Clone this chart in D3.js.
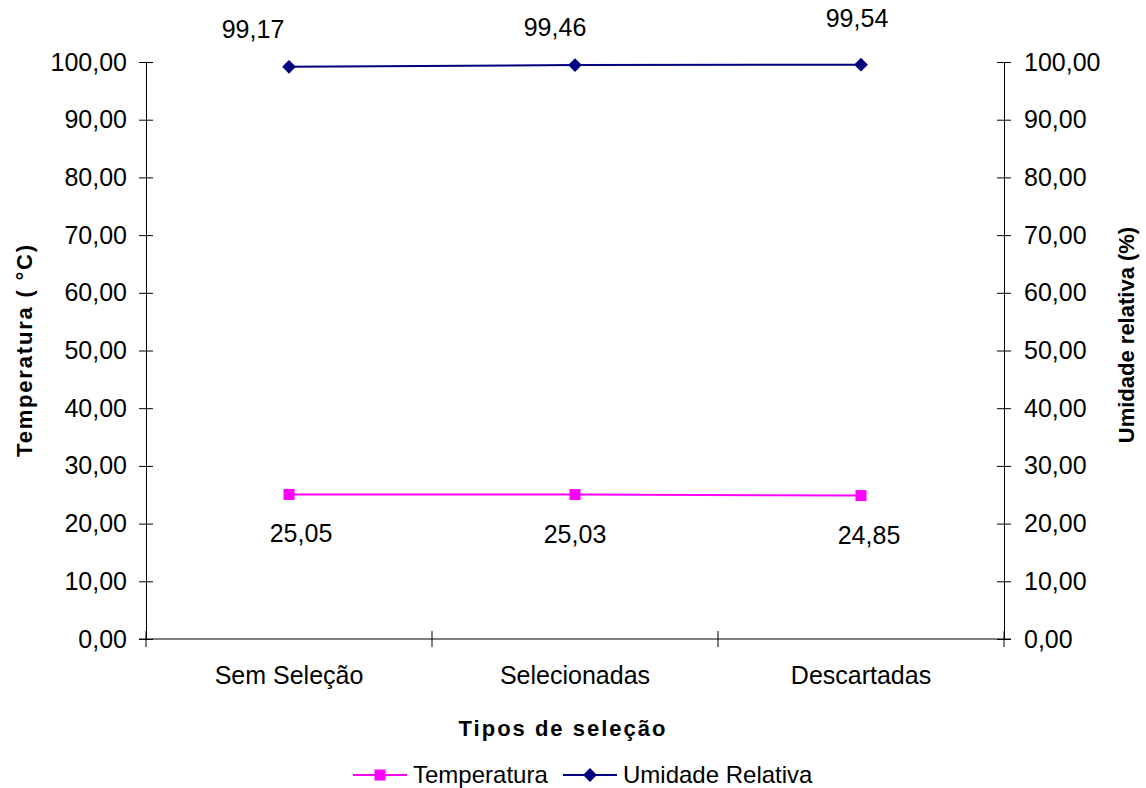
<!DOCTYPE html>
<html>
<head>
<meta charset="utf-8">
<script src="https://cdn.jsdelivr.net/npm/d3@7"></script>
<style>
  html, body { margin: 0; padding: 0; background: #fff; }
  svg text { font-family: "Liberation Sans", Arial, sans-serif; fill: #000; }
</style>
</head>
<body>
<svg id="chart" width="1146" height="788"></svg>
<script>
// Series data
const categories = ["Sem Seleção", "Selecionadas", "Descartadas"];
const temperatura = [25.05, 25.03, 24.85];
const umidade = [99.17, 99.46, 99.54];
const yTicks = [0, 10, 20, 30, 40, 50, 60, 70, 80, 90, 100];

// Hand-placed data label offsets (dx, dy from each point to label baseline)
const umidLabelOffset = [[-36, -29], [-20, -29], [-4, -38]];
const tempLabelOffset = [[12, 48], [0, 48], [8, 48]];

const svg = d3.select("#chart");
const plot = { left: 146, right: 1004, top: 62, bottom: 639 };

const x = d3.scaleBand().domain(categories).range([plot.left, plot.right]);
const yL = d3.scaleLinear().domain([0, 100]).range([plot.bottom, plot.top]);
const yR = d3.scaleLinear().domain([0, 100]).range([plot.bottom, plot.top]);
const fmt = v => d3.format(".2f")(v).replace(".", ",");
const cx = c => x(c) + x.bandwidth() / 2;

// Left axis
const gL = svg.append("g").attr("transform", `translate(${plot.left},0)`)
  .call(d3.axisLeft(yL).tickValues(yTicks).tickFormat(fmt).tickSize(7).tickSizeOuter(0).tickPadding(12));
gL.selectAll(".tick line").attr("x2", 7).attr("x1", -7);
// Right axis
const gR = svg.append("g").attr("transform", `translate(${plot.right},0)`)
  .call(d3.axisRight(yR).tickValues(yTicks).tickFormat(fmt).tickSize(7).tickSizeOuter(0).tickPadding(13));
gR.selectAll(".tick line").attr("x1", -7).attr("x2", 7);
// Bottom axis with category boundary ticks
const gB = svg.append("g").attr("transform", `translate(0,${plot.bottom})`)
  .call(d3.axisBottom(x).tickSize(0).tickPadding(27));
gB.select(".domain").attr("d", `M${plot.left - 7},0H${plot.right + 7}`);
const bounds = categories.map(c => x(c)).concat([plot.right]);
gB.selectAll(".bound").data(bounds).enter().append("line")
  .attr("x1", d => d).attr("x2", d => d).attr("y1", -8).attr("y2", 8)
  .attr("stroke", "#000");

[gL, gR, gB].forEach(g => {
  g.selectAll("text").attr("font-size", 25).attr("font-family", "Liberation Sans, Arial, sans-serif").attr("fill", "#000");
  g.selectAll(".domain, .tick line").attr("stroke", "#000").attr("stroke-width", 1);
});

// Lines
const lineL = d3.line().x((d, i) => cx(categories[i])).y(d => yL(d));
const lineR = d3.line().x((d, i) => cx(categories[i])).y(d => yR(d));
svg.append("path").datum(temperatura).attr("d", lineL)
  .attr("fill", "none").attr("stroke", "#FF00FF").attr("stroke-width", 2);
svg.append("path").datum(umidade).attr("d", lineR)
  .attr("fill", "none").attr("stroke", "#000080").attr("stroke-width", 2);

// Markers
svg.selectAll(".sq").data(temperatura).enter().append("rect")
  .attr("x", (d, i) => cx(categories[i]) - 5.5).attr("y", d => yL(d) - 5.5)
  .attr("width", 11).attr("height", 11).attr("fill", "#FF00FF");
svg.selectAll(".dm").data(umidade).enter().append("path")
  .attr("transform", (d, i) => `translate(${cx(categories[i])},${yR(d)}) rotate(45)`)
  .attr("d", d3.symbol().type(d3.symbolSquare).size(95)()).attr("fill", "#000080");

// Data labels
svg.selectAll(".ul").data(umidade).enter().append("text")
  .attr("x", (d, i) => cx(categories[i]) + umidLabelOffset[i][0])
  .attr("y", (d, i) => yR(d) + umidLabelOffset[i][1])
  .attr("text-anchor", "middle").attr("font-size", 25).text(fmt);
svg.selectAll(".tl").data(temperatura).enter().append("text")
  .attr("x", (d, i) => cx(categories[i]) + tempLabelOffset[i][0])
  .attr("y", (d, i) => yL(d) + tempLabelOffset[i][1])
  .attr("text-anchor", "middle").attr("font-size", 25).text(fmt);

// Axis titles
svg.append("text").attr("transform", "translate(32,350) rotate(-90)")
  .attr("text-anchor", "middle").attr("font-size", 22).attr("font-weight", "bold")
  .attr("letter-spacing", 1.8).text("Temperatura ( °C)");
svg.append("text").attr("transform", "translate(1134,335) rotate(-90)")
  .attr("text-anchor", "middle").attr("font-size", 22).attr("font-weight", "bold")
  .text("Umidade relativa (%)");
svg.append("text").attr("x", 563).attr("y", 736)
  .attr("text-anchor", "middle").attr("font-size", 22).attr("font-weight", "bold")
  .attr("letter-spacing", 2).text("Tipos de seleção");

// Legend
const legend = [
  { name: "Temperatura", color: "#FF00FF", shape: "square", x0: 353 },
  { name: "Umidade Relativa", color: "#000080", shape: "diamond", x0: 563 }
];
const ly = 775;
legend.forEach(l => {
  svg.append("line").attr("x1", l.x0).attr("x2", l.x0 + 54).attr("y1", ly).attr("y2", ly)
    .attr("stroke", l.color).attr("stroke-width", 2);
  if (l.shape === "square") {
    svg.append("rect").attr("x", l.x0 + 27 - 5.5).attr("y", ly - 5.5).attr("width", 11).attr("height", 11).attr("fill", l.color);
  } else {
    svg.append("path").attr("transform", `translate(${l.x0 + 27},${ly}) rotate(45)`)
      .attr("d", d3.symbol().type(d3.symbolSquare).size(95)()).attr("fill", l.color);
  }
  svg.append("text").attr("x", l.x0 + 60).attr("y", ly + 8).attr("font-size", 24).text(l.name);
});
</script>
</body>
</html>
